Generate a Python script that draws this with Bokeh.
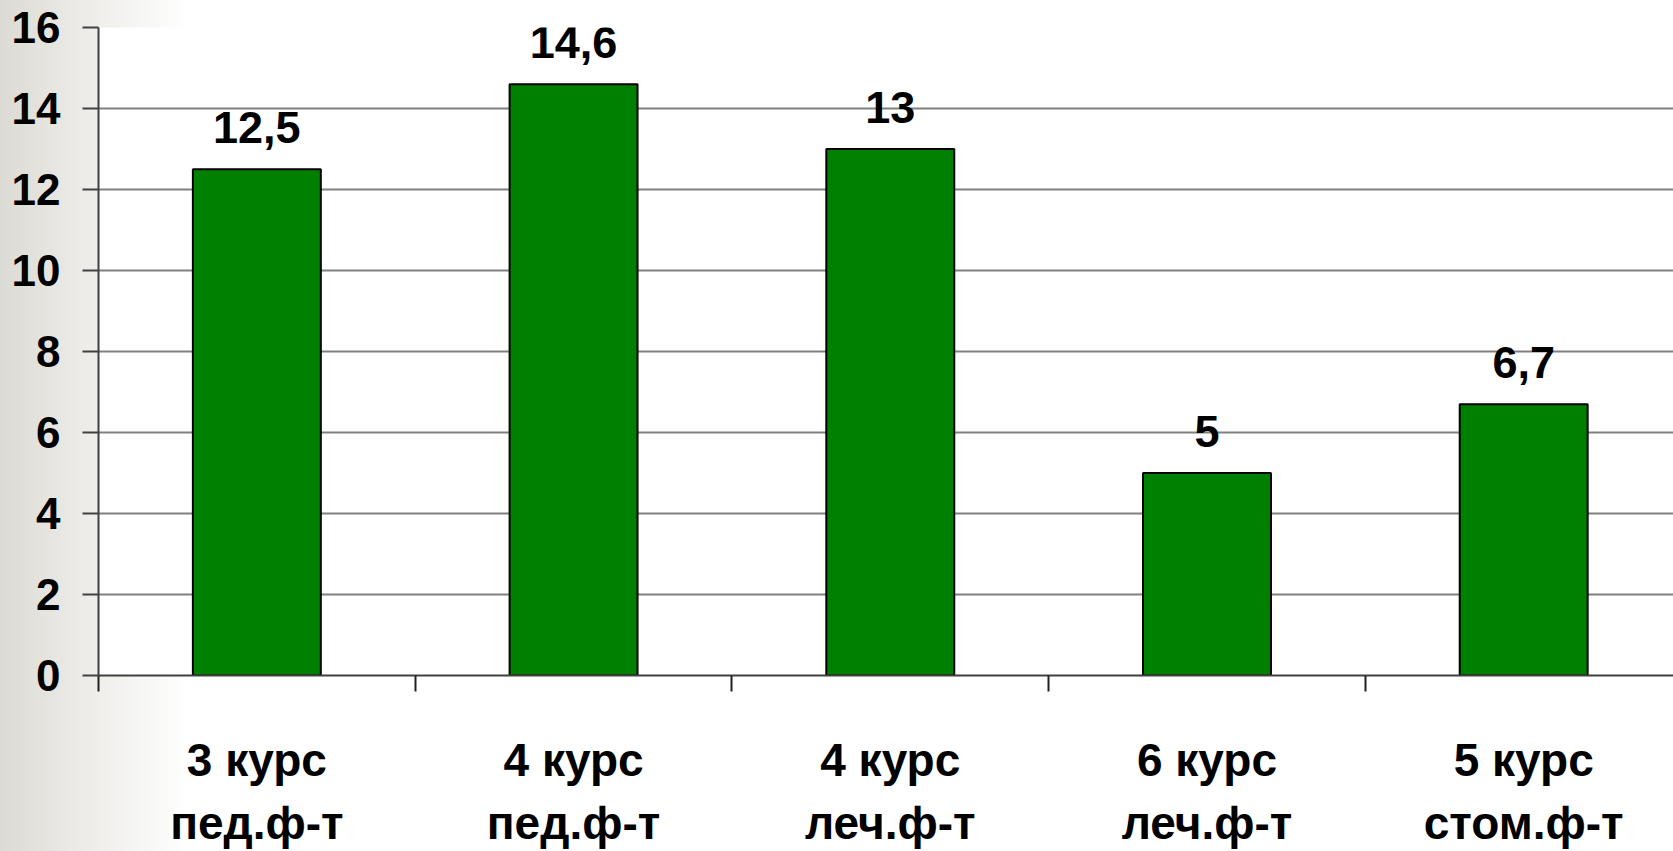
from bokeh.plotting import figure
from bokeh.models import (Range1d, FixedTicker, LinearAxis, ColumnDataSource, LabelSet)
from bokeh.core.properties import value
from bokeh.embed import file_html
from bokeh.resources import INLINE

# ---- data ----
line1 = ["3 курс", "4 курс", "4 курс", "6 курс", "5 курс"]
line2 = ["пед.ф-т", "пед.ф-т", "леч.ф-т", "леч.ф-т", "стом.ф-т"]
values = [12.5, 14.6, 13, 5, 6.7]
y_ticks = [0, 2, 4, 6, 8, 10, 12, 14, 16]

centers = [i + 0.5 for i in range(len(values))]
bounds = list(range(len(values) + 1))
val_text = [("%g" % v).replace(".", ",") for v in values]

FONT = "Liberation Sans"

p = figure(width=1673, height=851, output_backend="svg", toolbar_location=None,
           x_range=Range1d(0, 4.973), y_range=Range1d(0, 16),
           min_border_left=98, min_border_right=0, min_border_top=27, min_border_bottom=171)
p.outline_line_color = None
p.background_fill_color = "white"
p.border_fill_alpha = 0
p.styles = {"background": "linear-gradient(to right, #dcdad4 0px, #ecebe7 80px, #ffffff 190px)"}

src = ColumnDataSource(dict(x=centers, top=values, txt=val_text))
p.vbar(x="x", top="top", width=0.404, source=src, fill_color="#008000",
       line_color="#000000", line_width=2)

labels = LabelSet(x="x", y="top", text="txt", source=src, y_offset=26,
                  text_align="center", text_baseline="alphabetic",
                  text_font=value(FONT), text_font_style="bold", text_font_size="45px",
                  text_color="black")
p.add_layout(labels)

# y axis
ya = p.yaxis[0]
ya.ticker = FixedTicker(ticks=y_ticks)
ya.major_tick_out = 16
ya.major_tick_in = 0
ya.minor_tick_out = 0
ya.minor_tick_in = 0
ya.major_tick_line_color = "#404040"
ya.major_tick_line_width = 2
ya.axis_line_color = "#404040"
ya.axis_line_width = 2
ya.major_label_standoff = 22
ya.major_label_text_font = FONT
ya.major_label_text_font_style = "bold"
ya.major_label_text_font_size = "44px"
ya.major_label_text_color = "black"

p.ygrid.grid_line_color = "#808080"
p.ygrid.grid_line_width = 2
p.xgrid.grid_line_color = None

# x axis (line 1 + boundary ticks)
xa = p.xaxis[0]
xa.ticker = FixedTicker(ticks=centers, minor_ticks=bounds)
xa.major_label_overrides = {c: t for c, t in zip(centers, line1)}
xa.major_tick_out = 0
xa.major_tick_in = 0
xa.minor_tick_out = 16
xa.minor_tick_in = 0
xa.minor_tick_line_color = "#202020"
xa.minor_tick_line_width = 2
xa.axis_line_color = "#404040"
xa.axis_line_width = 2
xa.major_label_standoff = 42
xa.major_label_text_font = FONT
xa.major_label_text_font_style = "bold"
xa.major_label_text_font_size = "46px"
xa.major_label_text_color = "black"

# x axis second line
xb = LinearAxis(ticker=FixedTicker(ticks=centers))
xb.major_label_overrides = {c: t for c, t in zip(centers, line2)}
xb.axis_line_color = None
xb.major_tick_line_color = None
xb.minor_tick_line_color = None
xb.major_tick_out = 0
xb.minor_tick_out = 0
xb.major_label_standoff = 8
xb.major_label_text_font = FONT
xb.major_label_text_font_style = "bold"
xb.major_label_text_font_size = "46px"
xb.major_label_text_color = "black"
p.add_layout(xb, "below")

open("out.html", "w").write(file_html(p, INLINE))
